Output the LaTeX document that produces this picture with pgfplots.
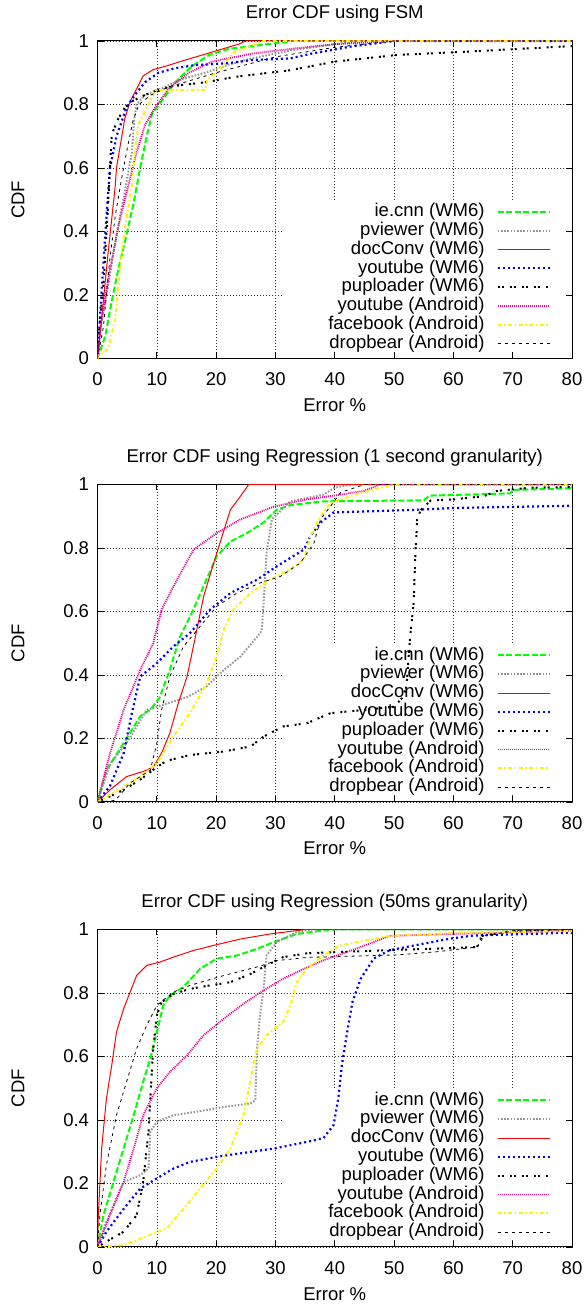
\documentclass[border=0pt]{standalone}
\usepackage{fontspec}
\setmainfont{Liberation Sans}
\usepackage{pgfplots}
\pgfplotsset{compat=1.18}

\definecolor{pvgray}{RGB}{150,150,150}

\pgfplotsset{
  sIE/.style={draw=green, line width=2pt, dash pattern=on 6pt off 2.5pt},
  sPV/.style={draw=pvgray, line width=2pt, dash pattern=on 1.6pt off 1.6pt},
  sDC/.style={draw=red, line width=1pt},
  sYW/.style={draw=blue, line width=2.2pt, dash pattern=on 2pt off 3pt},
  sPU/.style={draw=black, line width=2pt, dash pattern=on 2pt off 2pt on 2pt off 6pt},
  sYA/.style={draw=magenta, line width=1.8pt, dash pattern=on 1pt off 1pt},
  sFB/.style={draw=yellow, line width=2pt, dash pattern=on 4pt off 2.5pt on 1.5pt off 2.5pt},
  sDB/.style={draw=black, line width=0.8pt, dash pattern=on 3pt off 4pt},
  cdf/.style={
    set layers,
    anchor=south west,
    scale only axis, width=474.5pt, height=317.5pt,
    font=\fontsize{18.5}{20}\selectfont,
    xmin=0, xmax=80, ymin=0, ymax=1,
    xtick={0,10,20,30,40,50,60,70,80},
    ytick={0,0.2,0.4,0.6,0.8,1},
    /pgf/number format/assume math mode=true,
    tick align=inside, major tick length=6pt,
    tick style={black, line width=0.8pt},
    grid=major,
    major grid style={black!80, line width=0.6pt, dash pattern=on 0.8pt off 2.2pt},
    axis line style={line width=1pt},
    xlabel={Error \%}, ylabel={CDF},
    title style={at={(axis description cs:0.5,1)}, anchor=base, yshift=16pt},
    xlabel style={at={(axis description cs:0.5,0)}, anchor=base, yshift=-53pt},
    ylabel style={at={(axis description cs:0,0.5)}, anchor=center, yshift=79.5pt},
    xticklabel style={anchor=base, yshift=-27.5pt},
    yticklabel style={anchor=east, xshift=-5pt},
    legend plot pos=right, legend cell align=right,
    legend image code/.code={\draw[#1] (0pt,0pt) -- (52pt,0pt);},
    legend style={at={(1,0)}, anchor=south east, xshift=-21pt, yshift=6pt,
      draw=none, fill=none, inner sep=0pt, row sep=1.3pt, column sep=12pt,
      nodes={inner sep=0pt, text height=13.5pt, text depth=4pt}},
  },
}
% the key hides the grid lines but not the curves
\newcommand{\keyblank}{%
  \begin{pgfonlayer}{axis ticks}
    \fill[white] (rel axis cs:0.39,0.022) rectangle (rel axis cs:0.985,0.5);
  \end{pgfonlayer}}

\begin{document}
\begin{tikzpicture}

% ---------------- FSM ----------------
\begin{axis}[cdf, at={(97.5pt,945.5pt)}, title={Error CDF using FSM}]
\keyblank
\addplot[sIE] coordinates {(0,0)(1.3,0.07)(2.4,0.18)(3.5,0.28)(4.9,0.39)(6.1,0.49)(7.2,0.6)(8.3,0.7)(9.2,0.77)(10.8,0.81)(13.1,0.87)(15.9,0.92)(18.7,0.955)(22.1,0.975)(26.6,0.985)(33,1)(80,1)};
\addlegendentry{ie.cnn (WM6)}
\addplot[sPV] coordinates {(0,0)(0.4,0.09)(1.8,0.23)(3.2,0.39)(4.6,0.525)(5.8,0.65)(6.2,0.755)(6.6,0.8)(8,0.83)(10.8,0.85)(14.2,0.88)(18.2,0.9)(22,0.925)(26,0.945)(32.5,0.97)(40,0.99)(45,1)(80,1)};
\addlegendentry{pviewer (WM6)}
\addplot[sDC] coordinates {(0,0)(0.4,0.07)(1.8,0.335)(3,0.545)(3.2,0.6)(4.6,0.755)(5.5,0.81)(6.9,0.86)(7.7,0.89)(9.4,0.91)(11.4,0.92)(14.8,0.94)(19.3,0.965)(23.8,0.99)(25,1)(80,1)};
\addlegendentry{docConv (WM6)}
\addplot[sYW] coordinates {(0,0)(0.4,0.125)(1.3,0.39)(2.1,0.6)(3.2,0.7)(4.9,0.79)(6.3,0.83)(8,0.87)(10.3,0.9)(13,0.914)(16.5,0.924)(22,0.93)(26,0.94)(32.5,0.945)(36,0.96)(42.6,0.982)(50,1)(80,1)};
\addlegendentry{youtube (WM6)}
\addplot[sPU] coordinates {(0,0)(0.15,0.07)(1,0.23)(1.8,0.49)(2.1,0.6)(2.4,0.7)(2.7,0.72)(3.5,0.755)(4.6,0.79)(5.8,0.81)(8,0.83)(10.8,0.85)(13.7,0.86)(18.2,0.87)(23.2,0.887)(32.5,0.908)(40,0.935)(50.5,0.956)(61.8,0.966)(73,0.977)(80,0.984)};
\addlegendentry{puploader (WM6)}
\addplot[sYA] coordinates {(0,0)(0.7,0.125)(2.1,0.28)(3.8,0.44)(5.2,0.545)(6.6,0.65)(8,0.735)(9.7,0.79)(12,0.85)(15.4,0.9)(19.3,0.935)(26,0.96)(32.5,0.975)(40,0.99)(50,1)(80,1)};
\addlegendentry{youtube (Android)}
\addplot[sFB] coordinates {(0,0)(0.3,0.01)(1.8,0.03)(3,0.125)(3.8,0.28)(4.6,0.41)(5.8,0.545)(6.3,0.65)(6.9,0.735)(7.7,0.767)(8.9,0.81)(9.7,0.845)(18.2,0.845)(18.5,0.88)(20,0.9)(21.5,0.93)(23,0.965)(28,1)(80,1)};
\addlegendentry{facebook (Android)}
\addplot[sDB] coordinates {(0,0)(1,0.1)(2,0.3)(3,0.45)(4,0.56)(5,0.66)(6,0.75)(7,0.8)(9,0.83)(12,0.855)(20,0.9)(30,0.95)(40,0.98)(50,1)(80,1)};
\addlegendentry{dropbear (Android)}
\end{axis}

% ---------------- Regression 1 s ----------------
\begin{axis}[cdf, at={(97.5pt,502pt)}, title={Error CDF using Regression (1 second granularity)}]
\keyblank
\addplot[sIE] coordinates {(0,0)(1.5,0.1)(4.4,0.185)(7.2,0.27)(8.9,0.29)(10.5,0.33)(12.2,0.416)(13.9,0.52)(15.9,0.595)(17.9,0.68)(20.1,0.774)(22.4,0.82)(25.2,0.847)(28,0.88)(30.2,0.92)(32.5,0.935)(38.1,0.947)(55,0.95)(56,0.965)(69.6,0.972)(70,0.983)(80,0.988)};
\addlegendentry{ie.cnn (WM6)}
\addplot[sPV] coordinates {(0,0)(2.1,0.12)(4.9,0.185)(8.3,0.29)(11.7,0.31)(15.1,0.33)(18.4,0.364)(21.3,0.416)(24.1,0.458)(26.9,0.52)(27.7,0.54)(28,0.627)(28.5,0.784)(29.4,0.89)(32.5,0.947)(38.1,0.968)(40,0.99)(43,1)(80,1)};
\addlegendentry{pviewer (WM6)}
\addplot[sDC] coordinates {(0,0)(2.1,0.038)(4.9,0.08)(7.7,0.096)(9.4,0.11)(10.8,0.154)(12.2,0.217)(13.6,0.31)(15.1,0.395)(16.5,0.52)(17.9,0.648)(19.6,0.753)(21,0.837)(22.4,0.92)(24.1,0.963)(25.5,1)(80,1)};
\addlegendentry{docConv (WM6)}
\addplot[sYW] coordinates {(0,0)(2.1,0.05)(4.4,0.153)(5.8,0.28)(7.2,0.395)(10,0.437)(12.8,0.49)(15.6,0.532)(19,0.606)(22.4,0.658)(26.9,0.7)(30.2,0.742)(34.8,0.795)(35.9,0.837)(37.6,0.88)(39.8,0.912)(53.2,0.92)(60,0.926)(80,0.933)};
\addlegendentry{youtube (WM6)}
\addplot[sPU] coordinates {(0,0)(4.4,0.038)(7.2,0.07)(10,0.11)(11.7,0.13)(15.6,0.148)(21.3,0.159)(25.8,0.175)(28,0.206)(31.3,0.238)(35.3,0.248)(39.3,0.28)(45,0.29)(50,0.3)(51.5,0.33)(52.1,0.364)(52.7,0.52)(53.3,0.626)(53.6,0.785)(53.9,0.89)(54.5,0.92)(56.2,0.95)(60,0.953)(65.1,0.963)(67.4,0.98)(73,0.99)(80,0.992)};
\addlegendentry{puploader (WM6)}
\addplot[sYA] coordinates {(0,0)(2.1,0.153)(4.4,0.29)(7.2,0.416)(9.4,0.5)(10.8,0.606)(13.4,0.7)(16.2,0.795)(20.1,0.847)(24.1,0.89)(29.7,0.93)(35.3,0.953)(40.9,0.968)(45,0.98)(47.6,1)(80,1)};
\addlegendentry{youtube (Android)}
\addplot[sFB] coordinates {(0,0)(4.4,0.048)(7.2,0.08)(10,0.122)(12.8,0.206)(15.6,0.28)(18.4,0.374)(20.1,0.458)(21.3,0.543)(22.9,0.606)(25.8,0.658)(29.1,0.7)(32.5,0.732)(34.8,0.763)(35.9,0.837)(37.6,0.9)(39.3,0.942)(43.7,0.97)(49.3,0.997)(50,1)(80,1)};
\addlegendentry{facebook (Android)}
\addplot[sDB] coordinates {(0,0)(3,0.005)(5.5,0.06)(8.9,0.1)(10,0.185)(10.8,0.29)(12.2,0.395)(14.5,0.49)(17.3,0.553)(20.1,0.616)(23.5,0.658)(27.4,0.69)(30.8,0.71)(34.2,0.753)(36.5,0.816)(37.6,0.89)(39.3,0.932)(41,0.975)(45,1)(80,1)};
\addlegendentry{dropbear (Android)}
\end{axis}

% ---------------- Regression 50 ms ----------------
\begin{axis}[cdf, at={(97.5pt,57pt)}, title={Error CDF using Regression (50ms granularity)}]
\keyblank
\addplot[sIE] coordinates {(0,0)(1,0.1)(2.7,0.205)(4.4,0.31)(6.1,0.415)(7.7,0.52)(8.9,0.593)(10,0.677)(11.1,0.761)(12.2,0.792)(14.5,0.819)(17.3,0.876)(20.1,0.908)(23.5,0.918)(26.9,0.939)(29.7,0.96)(33.6,0.986)(38.1,0.997)(40,1)(80,1)};
\addlegendentry{ie.cnn (WM6)}
\addplot[sPV] coordinates {(0,0)(1.5,0.08)(3.2,0.153)(4.4,0.205)(7.2,0.226)(8.6,0.247)(8.9,0.363)(10,0.394)(12.8,0.415)(16.7,0.426)(21.3,0.441)(25.8,0.452)(26.6,0.462)(26.9,0.625)(27.4,0.73)(28,0.813)(28.5,0.918)(30.2,0.96)(33.6,0.992)(36,1)(80,1)};
\addlegendentry{pviewer (WM6)}
\addplot[sDC] coordinates {(0,0)(0.14,0.1)(0.7,0.31)(1.5,0.467)(2.4,0.572)(3.2,0.677)(4.4,0.75)(5.5,0.803)(6.6,0.855)(8.3,0.887)(10.5,0.897)(12.8,0.913)(16.2,0.934)(19.6,0.95)(24.1,0.97)(29.1,0.986)(32.5,0.994)(35,1)(80,1)};
\addlegendentry{docConv (WM6)}
\addplot[sYW] coordinates {(0,0)(1.5,0.048)(4.4,0.12)(7.2,0.184)(10,0.216)(12.8,0.247)(15.6,0.268)(20.1,0.284)(24.1,0.295)(29.7,0.31)(35.3,0.331)(38.1,0.343)(39.8,0.384)(40.6,0.468)(41.2,0.573)(42.1,0.678)(43,0.773)(44.4,0.846)(46.6,0.909)(49.3,0.935)(52.1,0.945)(59.4,0.971)(63.4,0.981)(80,0.99)};
\addlegendentry{youtube (WM6)}
\addplot[sPU] coordinates {(0,0)(1.5,0.017)(4.4,0.048)(6.6,0.1)(7.7,0.205)(8.6,0.363)(8.9,0.467)(9.4,0.625)(10,0.73)(10.8,0.771)(12.8,0.797)(15.6,0.813)(19,0.824)(22.4,0.834)(25.8,0.86)(28.5,0.887)(31.3,0.913)(35.3,0.925)(47.6,0.934)(57.3,0.94)(64,0.945)(64.8,0.98)(70,0.995)(80,1)};
\addlegendentry{puploader (WM6)}
\addplot[sYA] coordinates {(0,0)(2.1,0.1)(4.4,0.205)(6.1,0.31)(7.7,0.415)(10,0.5)(12.2,0.551)(15.1,0.604)(17.9,0.667)(21.3,0.719)(24.6,0.766)(28,0.808)(31.3,0.845)(34.8,0.876)(38.1,0.903)(43.7,0.94)(49.3,0.98)(57.8,0.985)(80,0.996)};
\addlegendentry{youtube (Android)}
\addplot[sFB] coordinates {(0,0)(4.4,0.006)(8.9,0.038)(11.7,0.059)(14.5,0.12)(17.3,0.184)(20.1,0.247)(22.4,0.31)(24.6,0.415)(26.3,0.572)(26.9,0.625)(28.5,0.667)(31.3,0.709)(32.5,0.76)(33.6,0.834)(35.3,0.876)(38.1,0.918)(40.9,0.95)(43.7,0.96)(49.3,0.98)(61,0.99)(80,0.995)};
\addlegendentry{facebook (Android)}
\addplot[sDB] coordinates {(0,0)(0.4,0.1)(1.5,0.258)(3.2,0.415)(4.9,0.52)(6.6,0.625)(8.3,0.698)(10,0.761)(12.8,0.803)(15.6,0.824)(21.3,0.855)(26.9,0.882)(30.2,0.902)(35.3,0.912)(40.9,0.915)(50.5,0.92)(57.3,0.93)(64,0.945)(65.2,0.98)(70,0.995)(80,1)};
\addlegendentry{dropbear (Android)}
\end{axis}

\pgfresetboundingbox
\path[use as bounding box] (0pt,0pt) rectangle (586pt,1304pt);
\end{tikzpicture}
\end{document}
